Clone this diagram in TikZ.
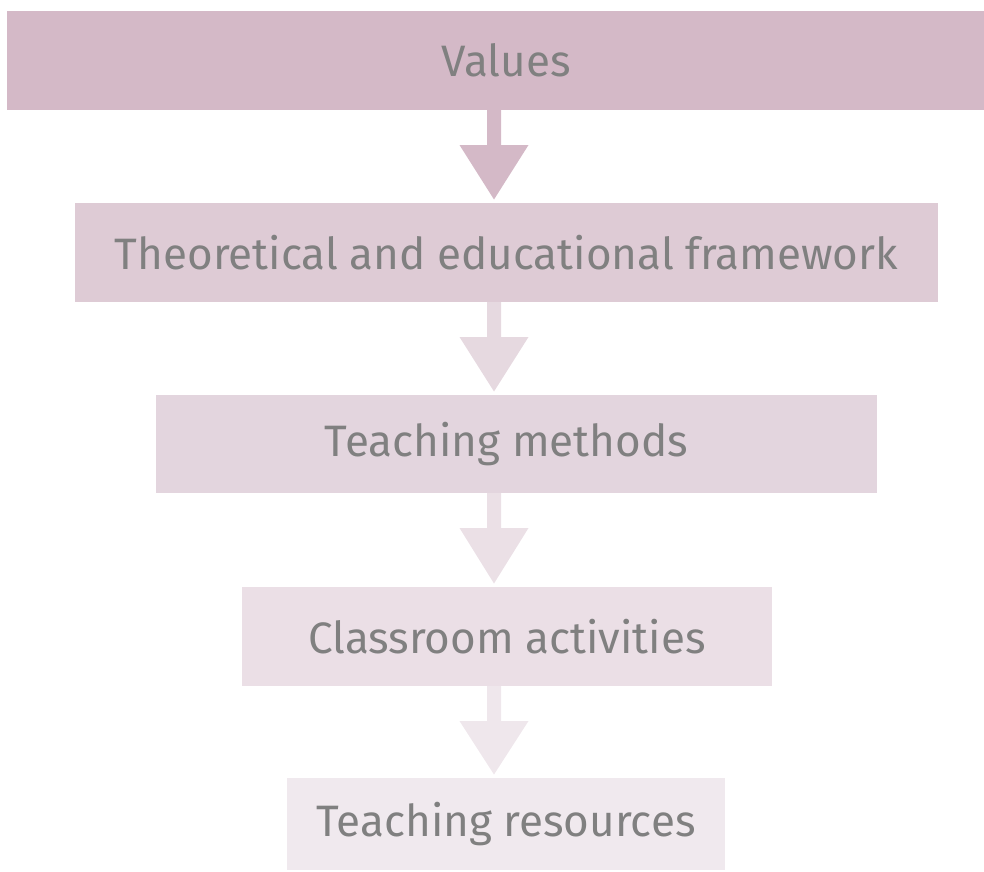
\documentclass[tikz,border=0pt]{standalone}
\usepackage{fontspec}
\setmainfont{Fira Sans}
\usepackage{tikz}
\usetikzlibrary{calc,positioning}

\definecolor{boxA}{HTML}{D4B9C7}
\definecolor{boxB}{HTML}{DECBD5}
\definecolor{boxC}{HTML}{E3D5DE}
\definecolor{boxD}{HTML}{EBDFE6}
\definecolor{boxE}{HTML}{F0E9EE}
\definecolor{arrB}{HTML}{E6D9E0}
\definecolor{arrC}{HTML}{EBE0E6}
\definecolor{arrD}{HTML}{EFE7EC}
\definecolor{txt}{HTML}{808080}

\tikzset{
  level/.style={rectangle, inner sep=0pt, outer sep=0pt, text=txt,
    font=\fontsize{44}{52}\selectfont},
}

% filled block arrow: from node #1 down to node #2, colour #3
\newcommand{\flowarr}[3]{%
  \fill[#3] ($(axis |- #1.south)+(-7,0)$) -- ++(0,35) -- ++(-27.5,0)
    -- ($(axis |- #2.north)+(0,-3.5)$)
    -- ($(axis |- #1.south)+(34.5,35)$) -- ++(-27.5,0) -- ++(0,-35) -- cycle;
}

\begin{document}
\begin{tikzpicture}[x=1pt,y=-1pt]
\useasboundingbox (0,0) rectangle (984,871);
\coordinate (axis) at (494,0);

\node[level, fill=boxA, minimum width=977pt, minimum height=99pt] (values) at (495.5,60.5) {\hspace{21pt}Values};
\node[level, fill=boxB, minimum width=863pt, minimum height=99pt] (frame) at (506.5,252.5) {Theoretical and educational framework};
\node[level, fill=boxC, minimum width=721pt, minimum height=98pt] (methods) at (516.5,444) {\hspace*{-20pt}Teaching methods};
\node[level, fill=boxD, minimum width=530pt, minimum height=99pt] (activities) at (507,636.5) {Classroom activities};
\node[level, fill=boxE, minimum width=438pt, minimum height=92pt] (resources) at (506,824) {Teaching resources};

\flowarr{values}{frame}{boxA}
\flowarr{frame}{methods}{arrB}
\flowarr{methods}{activities}{arrC}
\flowarr{activities}{resources}{arrD}
\end{tikzpicture}
\end{document}
